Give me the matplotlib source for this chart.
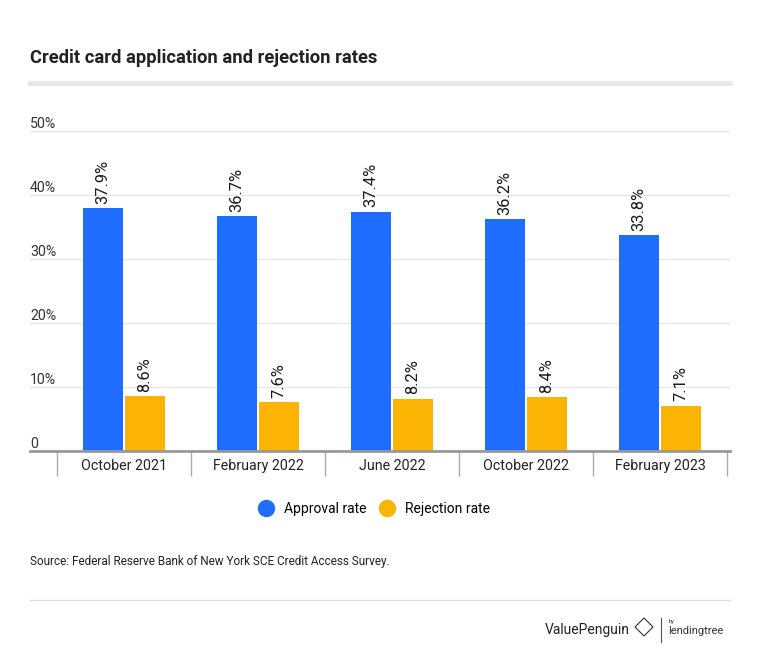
import matplotlib.pyplot as plt
import numpy as np
from matplotlib.lines import Line2D
from matplotlib.patches import Polygon

plt.rcParams['font.family'] = ['Roboto', 'DejaVu Sans']

# data
periods = ["October 2021", "February 2022", "June 2022", "October 2022", "February 2023"]
approval = [37.9, 36.7, 37.4, 36.2, 33.8]
rejection = [8.6, 7.6, 8.2, 8.4, 7.1]
yticks = [0, 10, 20, 30, 40, 50]
ytick_labels = ["0", "10%", "20%", "30%", "40%", "50%"]

blue = "#1f6dff"
yellow = "#fbb403"
W, H = 760, 654

fig = plt.figure(figsize=(W / 100, H / 100), dpi=100)
ax = fig.add_axes([30 / W, (H - 451) / H, 700 / W, 320 / H])

x = np.arange(len(periods))
bw = 40 / 134
off = 21 / 134
b1 = ax.bar(x - off, approval, bw, color=blue, zorder=3)
b2 = ax.bar(x + off, rejection, bw, color=yellow, zorder=3)
for bars in (b1, b2):
    for r in bars:
        ax.annotate("%.1f%%" % r.get_height(), (r.get_x() + r.get_width() / 2, r.get_height()),
                    xytext=(0, 3), textcoords="offset points", rotation=90,
                    ha="center", va="bottom", fontsize=11.8, color="#1a1a1a")

ax.set_xlim((30 - 124) / 134, (730 - 124) / 134)
ax.set_ylim(0, 50)

# gridlines and y labels
for v, lab in zip(yticks, ytick_labels):
    if v > 0:
        ax.axhline(v, color="#e6e6e6", lw=1, zorder=1)
    ax.text(0, v, lab, transform=ax.get_yaxis_transform(), ha="left", va="bottom",
            fontsize=10.2, color="#333333", clip_on=False)
ax.set_yticks([])

for s in ["top", "right", "left"]:
    ax.spines[s].set_visible(False)
ax.spines["bottom"].set_color("#999999")
ax.spines["bottom"].set_linewidth(2)
ax.spines["bottom"].set_zorder(4)

ax.set_xticks(x)
ax.set_xticklabels(periods, fontsize=10.3, color="#222222")
ax.tick_params(axis="x", which="major", length=0, pad=6)
ax.set_xticks(np.arange(len(periods) + 1) - 0.5, minor=True)
ax.tick_params(axis="x", which="minor", length=18, width=1, color="#aaaaaa", direction="out")

# title
fig.text(30 / W, 1 - 58 / H, "Credit card application and rejection rates", fontsize=13.2,
         fontweight="bold", color="#222222", va="center", ha="left")
fig.add_artist(Line2D([30 / W, 730 / W], [1 - 83 / H, 1 - 83 / H], color="#e6e6e6", lw=3.5))

# legend
handles = [Line2D([], [], marker="o", ls="", color=blue, markersize=11.5),
           Line2D([], [], marker="o", ls="", color=yellow, markersize=11.5)]
fig.legend(handles, ["Approval rate", "Rejection rate"], loc="center",
           bbox_to_anchor=(371 / W, 1 - 509 / H), ncol=2, frameon=False, fontsize=10,
           handletextpad=0.3, columnspacing=0.5)

fig.text(30 / W, 1 - 562 / H, "Source: Federal Reserve Bank of New York SCE Credit Access Survey.",
         fontsize=8.5, color="#222222", va="center", ha="left")
fig.add_artist(Line2D([30 / W, 730 / W], [1 - 600 / H, 1 - 600 / H], color="#dddddd", lw=1))

# logo
fig.text(630 / W, 1 - 630 / H, "ValuePenguin", fontsize=10, color="#222222", ha="right", va="center")
cx, cy = 644, 627
fig.add_artist(Polygon([((cx) / W, 1 - (cy - 9) / H), ((cx + 9) / W, 1 - cy / H),
                        ((cx) / W, 1 - (cy + 9) / H), ((cx - 9) / W, 1 - cy / H)],
                       closed=True, fill=False, edgecolor="#333333", lw=0.8,
                       transform=fig.transFigure))
fig.add_artist(Line2D([661 / W, 661 / W], [1 - 618 / H, 1 - 642 / H], color="#555555", lw=0.8))
fig.text(669 / W, 1 - 621 / H, "by", fontsize=4, color="#333333", ha="left", va="center")
fig.text(668 / W, 1 - 631 / H, "lendingtree", fontsize=8, color="#333333", ha="left", va="center")

fig.savefig("out.png", dpi=100, facecolor="white")
